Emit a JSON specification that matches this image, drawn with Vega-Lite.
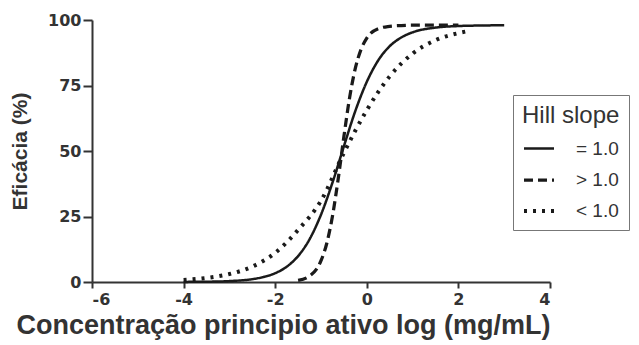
{
  "$schema": "https://vega.github.io/schema/vega-lite/v6.json",
  "autosize": "none",
  "width": 458,
  "height": 262,
  "padding": {"left": 92, "top": 20, "right": 89, "bottom": 63},
  "background": "white",
  "config": {
    "view": {"stroke": null},
    "axis": {
      "domainColor": "#333",
      "domainWidth": 2,
      "tickColor": "#333",
      "tickWidth": 2,
      "grid": false,
      "labelFont": "DejaVu Sans",
      "labelFontWeight": "bold",
      "labelFontSize": 16,
      "labelColor": "#333",
      "titleFont": "Liberation Sans",
      "titleFontWeight": "bold",
      "titleColor": "#333"
    }
  },
  "data": {
    "values": [
      {"x": -4, "y": 0.04, "s": "= 1.0"},
      {"x": -3.5, "y": 0.11, "s": "= 1.0"},
      {"x": -3, "y": 0.35, "s": "= 1.0"},
      {"x": -2.5, "y": 1.09, "s": "= 1.0"},
      {"x": -2.25, "y": 1.92, "s": "= 1.0"},
      {"x": -2, "y": 3.36, "s": "= 1.0"},
      {"x": -1.75, "y": 5.82, "s": "= 1.0"},
      {"x": -1.5, "y": 9.89, "s": "= 1.0"},
      {"x": -1.25, "y": 16.3, "s": "= 1.0"},
      {"x": -1, "y": 25.7, "s": "= 1.0"},
      {"x": -0.75, "y": 37.9, "s": "= 1.0"},
      {"x": -0.5, "y": 51.8, "s": "= 1.0"},
      {"x": -0.25, "y": 65.3, "s": "= 1.0"},
      {"x": 0, "y": 76.4, "s": "= 1.0"},
      {"x": 0.25, "y": 84.6, "s": "= 1.0"},
      {"x": 0.5, "y": 90.0, "s": "= 1.0"},
      {"x": 0.75, "y": 93.3, "s": "= 1.0"},
      {"x": 1, "y": 95.3, "s": "= 1.0"},
      {"x": 1.5, "y": 97.1, "s": "= 1.0"},
      {"x": 2, "y": 97.7, "s": "= 1.0"},
      {"x": 2.5, "y": 97.9, "s": "= 1.0"},
      {"x": 3, "y": 98.0, "s": "= 1.0"},

      {"x": -1.5, "y": 0.61, "s": "> 1.0"},
      {"x": -1.25, "y": 2.27, "s": "> 1.0"},
      {"x": -1, "y": 8.12, "s": "> 1.0"},
      {"x": -0.875, "y": 14.7, "s": "> 1.0"},
      {"x": -0.75, "y": 25.1, "s": "> 1.0"},
      {"x": -0.625, "y": 39.3, "s": "> 1.0"},
      {"x": -0.5, "y": 55.5, "s": "> 1.0"},
      {"x": -0.375, "y": 70.4, "s": "> 1.0"},
      {"x": -0.25, "y": 81.6, "s": "> 1.0"},
      {"x": -0.125, "y": 88.8, "s": "> 1.0"},
      {"x": 0, "y": 93.1, "s": "> 1.0"},
      {"x": 0.25, "y": 96.7, "s": "> 1.0"},
      {"x": 0.5, "y": 97.6, "s": "> 1.0"},
      {"x": 0.75, "y": 97.9, "s": "> 1.0"},
      {"x": 1, "y": 98.0, "s": "> 1.0"},
      {"x": 1.5, "y": 98.0, "s": "> 1.0"},
      {"x": 2, "y": 98.0, "s": "> 1.0"},

      {"x": -4, "y": 0.78, "s": "< 1.0"},
      {"x": -3.5, "y": 1.55, "s": "< 1.0"},
      {"x": -3, "y": 3.04, "s": "< 1.0"},
      {"x": -2.5, "y": 5.89, "s": "< 1.0"},
      {"x": -2, "y": 11.1, "s": "< 1.0"},
      {"x": -1.5, "y": 19.9, "s": "< 1.0"},
      {"x": -1, "y": 31.0, "s": "< 1.0"},
      {"x": -0.5, "y": 49.3, "s": "< 1.0"},
      {"x": 0, "y": 65.6, "s": "< 1.0"},
      {"x": 0.5, "y": 78.5, "s": "< 1.0"},
      {"x": 1, "y": 87.2, "s": "< 1.0"},
      {"x": 1.5, "y": 92.3, "s": "< 1.0"},
      {"x": 2, "y": 95.0, "s": "< 1.0"},
      {"x": 2.25, "y": 95.9, "s": "< 1.0"}
    ]
  },
  "mark": {"type": "line", "interpolate": "monotone", "color": "#1a1a1a"},
  "encoding": {
    "x": {
      "field": "x", "type": "quantitative",
      "scale": {"domain": [-6, 4], "nice": false, "zero": false},
      "axis": {
        "values": [-6, -4, -2, 0, 2, 4],
        "labelExpr": "replace(datum.label, '−', '-')",
        "title": "Concentração principio ativo log (mg/mL)",
        "titleFontSize": 27,
        "titlePadding": 5,
        "titleX": 191,
        "tickSize": 6,
        "labelPadding": 3
      }
    },
    "y": {
      "field": "y", "type": "quantitative",
      "scale": {"domain": [0, 100], "nice": false},
      "axis": {
        "values": [0, 25, 50, 75, 100],
        "title": "Eficácia (%)",
        "titleFontSize": 21,
        "titlePadding": 17,
        "tickSize": 9,
        "labelPadding": 2
      }
    },
    "detail": {"field": "s"},
    "strokeDash": {
      "field": "s", "type": "nominal",
      "scale": {"domain": ["= 1.0", "> 1.0", "< 1.0"], "range": [[1, 0], [9, 5], [3, 6]]},
      "legend": {
        "title": "Hill slope",
        "orient": "none",
        "legendX": 421,
        "legendY": 75,
        "strokeColor": "#777",
        "padding": 9,
        "fillColor": "white",
        "symbolType": "stroke",
        "symbolSize": 900,
        "symbolStrokeWidth": 3.5,
        "symbolStrokeColor": "#1a1a1a",
        "titleFont": "Liberation Sans",
        "titleFontWeight": "normal",
        "titleFontSize": 24,
        "titleColor": "#333",
        "titlePadding": 4,
        "labelFont": "Liberation Sans",
        "labelFontSize": 19,
        "labelColor": "#333",
        "labelOffset": 20,
        "rowPadding": 4
      }
    },
    "strokeWidth": {
      "field": "s", "type": "nominal",
      "scale": {"domain": ["= 1.0", "> 1.0", "< 1.0"], "range": [2.5, 4, 3.5]},
      "legend": null
    }
  }
}
